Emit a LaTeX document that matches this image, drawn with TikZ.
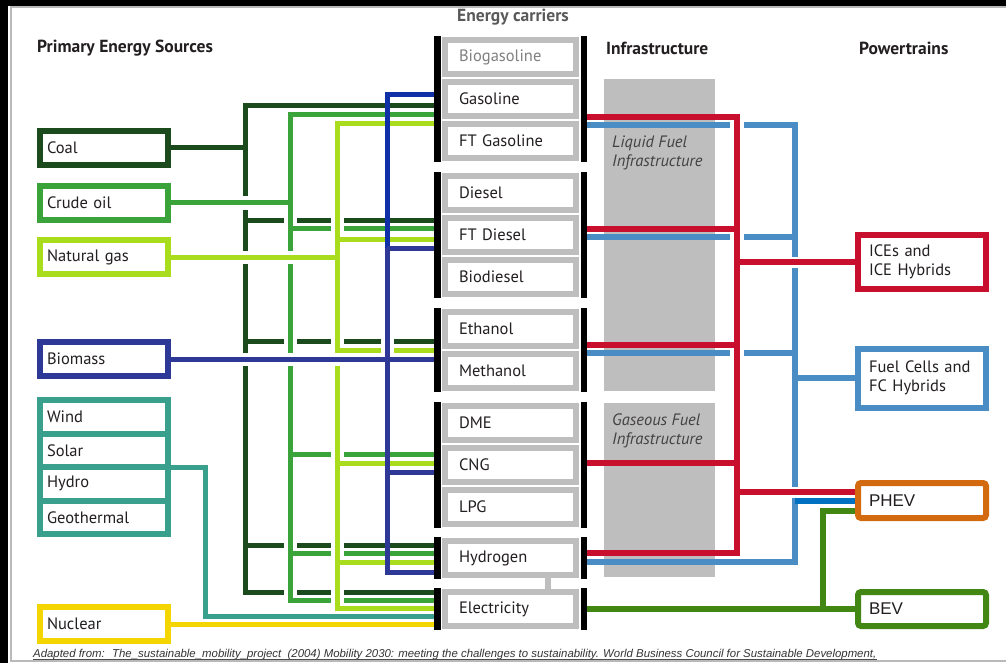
\documentclass[tikz,border=0pt]{standalone}
\usepackage{fontspec}
\setmainfont{PT Sans}
\newfontfamily\arialfont{Liberation Sans}
\usetikzlibrary{positioning}

\definecolor{coalc}{RGB}{27,74,28}
\definecolor{oilc}{RGB}{58,163,58}
\definecolor{gasc}{RGB}{170,220,30}
\definecolor{biomc}{RGB}{46,56,150}
\definecolor{biomtop}{RGB}{16,48,168}
\definecolor{renewc}{RGB}{56,160,140}
\definecolor{nukec}{RGB}{245,213,0}
\definecolor{icec}{RGB}{200,16,46}
\definecolor{fcc}{RGB}{74,140,196}
\definecolor{phevc}{RGB}{212,106,16}
\definecolor{phevblue}{RGB}{0,112,192}
\definecolor{bevc}{RGB}{66,134,20}
\definecolor{carrgray}{RGB}{190,190,190}
\definecolor{textc}{RGB}{35,31,32}

\tikzset{
  heading/.style={font=\bfseries\fontsize{17.5}{20}\selectfont, text=textc, inner sep=0pt},
  source/.style={draw, line width=6pt, fill=white, outer sep=0pt, minimum width=128pt,
    minimum height=34pt, text width=114pt, inner xsep=7pt, align=left,
    font=\fontsize{16.5}{19}\selectfont, text=textc},
  renew/.style={source, draw=renewc, minimum height=33.5pt},
  train/.style={source, outer sep=3pt, inner xsep=11pt, text width=106pt},
  carrier/.style={draw=carrgray, line width=6pt, fill=white, outer sep=0pt, minimum width=131pt,
    minimum height=34pt, text width=103pt, inner xsep=14pt, align=left,
    font=\fontsize{16.5}{19}\selectfont, text=textc},
  infralabel/.style={font=\itshape\fontsize{16.5}{19}\selectfont, text=textc!85, align=left, inner sep=0pt},
  wire/.style={line width=5pt},
  rwire/.style={line width=6pt},
  bar/.style={line width=6.5pt, shorten <=-4pt, shorten >=-4pt},
  gap/.style={fill=white},
}

\begin{document}
\begin{tikzpicture}[x=1pt,y=-1pt]
  \useasboundingbox (0,0) rectangle (1006,663);
  \fill[black] (0,0) rectangle (1006,6);
  \fill[black] (0,0) rectangle (8,663);
  \draw[gray!55,line width=1.5pt] (1006,7) -- (11,7) -- (11,661) -- (1006,661);

  \node[heading,anchor=west] (srchead) at (37,48) {Primary Energy Sources};
  \node[heading,text=black!65] (carrhead) at (513,17) {Energy carriers};
  \node[heading,anchor=west] (infhead) at (606,48) {Infrastructure};
  \node[heading,anchor=west] (pthead) at (859,48) {Powertrains};

  % primary sources
  \node[source,draw=coalc] (coal) at (104,148) {Coal};
  \node[source,draw=oilc] (crude) at (104,203) {Crude oil};
  \node[source,draw=gasc] (natgas) at (104,257) {Natural gas};
  \node[source,draw=biomc] (biomass) at (104,359) {Biomass};
  \node[renew] (wind) at (104,416.75) {Wind};
  \node[renew,below=0pt of wind] (solar) {Solar};
  \node[renew,below=0pt of solar] (hydro) {Hydro};
  \node[renew,below=0pt of hydro] (geo) {Geothermal};
  \node[source,draw=nukec] (nuclear) at (104,624) {Nuclear};

  % infrastructure
  \node[fill=carrgray,minimum width=111pt,minimum height=312pt,inner sep=0pt] (liquid) at (659.5,235) {};
  \node[fill=carrgray,minimum width=111pt,minimum height=174pt,inner sep=0pt] (gaseous) at (659.5,490) {};
  \node[infralabel,anchor=west] (liquidlabel) at (612,152.5) {Liquid Fuel\\Infrastructure};
  \node[infralabel,anchor=west] (gaseouslabel) at (612,430.5) {Gaseous Fuel\\Infrastructure};

  % coal
  \draw[wire,coalc] (coal.east) -- (245,148);
  \draw[wire,coalc] (437,106) -| (245,592) -- (437,592);
  \foreach \y in {220,341,545} \draw[wire,coalc] (245,\y) -- (437,\y);
  \foreach \y in {203,257,359} \fill[gap] (241.5,\y-6.5) rectangle (248.5,\y+6.5);
  \foreach \x/\y in {290/220,337/220,290/341,337/341,387/341,290/545,337/545,290/592,337/592}
    \fill[gap] (\x-6.5,\y-3.5) rectangle (\x+6.5,\y+3.5);

  % crude oil
  \draw[wire,oilc] (crude.east) -- (290,203);
  \draw[wire,oilc] (437,115) -| (290,600) -- (437,600);
  \foreach \y in {228,454,553} \draw[wire,oilc] (290,\y) -- (437,\y);
  \foreach \y in {257,359} \fill[gap] (286.5,\y-6.5) rectangle (293.5,\y+6.5);
  \foreach \y in {228,454,553,600} \fill[gap] (330.5,\y-3.5) rectangle (343.5,\y+3.5);

  % natural gas
  \draw[wire,gasc] (natgas.east) -- (337,257);
  \draw[wire,gasc] (437,124) -| (337,608) -- (437,608);
  \foreach \y in {239,350,463,562} \draw[wire,gasc] (337,\y) -- (437,\y);
  \fill[gap] (333.5,352.5) rectangle (340.5,365.5);
  \fill[gap] (380.5,346.5) rectangle (393.5,353.5);

  % biomass
  \draw[wire,biomtop] (437,95) -| (387,250);
  \draw[wire,biomc] (387,248) |- (437,572);
  \foreach \y in {248,472} \draw[wire,biomc] (387,\y) -- (437,\y);
  \draw[wire,biomc] (biomass.east) -- (437,359);

  \draw[wire,renewc] (hydro.north east) -- (205,467) |- (437,616);
  \draw[wire,nukec] (nuclear.east) -- (437,624);

  % powertrains
  \node[train,draw=icec] (ice) at (922,262) [minimum height=54pt] {ICEs and\\ICE Hybrids};
  \node[train,draw=fcc] (fc) at (922,378) [minimum height=59pt] {Fuel Cells and\\FC Hybrids};
  \node[train,draw=phevc,rounded corners=3pt,font=\arialfont\fontsize{17}{19}\selectfont] (phev) at (922,500.5) [minimum height=35pt] {PHEV};
  \node[train,draw=bevc,rounded corners=3pt,font=\arialfont\fontsize{17}{19}\selectfont] (bev) at (922,609) [minimum height=34pt] {BEV};

  \draw[rwire,fcc] (584,125) -| (795,562) -- (584,562);
  \foreach \y in {237,353} \draw[rwire,fcc] (584,\y) -- (795,\y);
  \draw[rwire,fcc] (795,378) -- (fc.west);
  \draw[rwire,phevblue] (795,501) -- (phev.west |- 0,501);
  \foreach \y in {125,237,353} \fill[gap] (730,\y-4) rectangle (744,\y+4);
  \foreach \y in {262,492} \fill[gap] (791,\y-5.5) rectangle (799,\y+5.5);

  \draw[rwire,icec] (584,117) -| (737,553) -- (584,553);
  \foreach \y in {229,345,463} \draw[rwire,icec] (584,\y) -- (737,\y);
  \draw[rwire,icec] (737,262) -- (ice.west);
  \draw[rwire,icec] (737,492) -- (phev.west |- 0,492);

  \draw[rwire,bevc] (584,609) -- (bev.west);
  \draw[rwire,bevc] (823,609) |- (phev.west |- 0,511);

  % energy carriers
  \node[carrier,text=black!50] (biogasoline) at (510.5,57) {Biogasoline};
  \node[carrier,below=8pt of biogasoline] (gasoline) {Gasoline};
  \node[carrier,below=8pt of gasoline] (ftgasoline) {FT Gasoline};
  \node[carrier] (diesel) at (510.5,193) {Diesel};
  \node[carrier,below=8pt of diesel] (ftdiesel) {FT Diesel};
  \node[carrier,below=8pt of ftdiesel] (biodiesel) {Biodiesel};
  \node[carrier] (ethanol) at (510.5,329) {Ethanol};
  \node[carrier,below=8pt of ethanol] (methanol) {Methanol};
  \node[carrier] (dme) at (510.5,423) {DME};
  \node[carrier,below=8pt of dme] (cng) {CNG};
  \node[carrier,below=8pt of cng] (lpg) {LPG};
  \node[carrier] (hydrogen) at (510.5,558) {Hydrogen};
  \node[carrier] (electricity) at (510.5,609) {Electricity};
  \draw[carrgray,line width=6pt] ([xshift=37.5pt]hydrogen.south) -- ([xshift=37.5pt]electricity.north);

  \coordinate (barL) at (437.5,0);
  \coordinate (barR) at (584,0);
  \foreach \a/\b in {biogasoline/ftgasoline,diesel/biodiesel,ethanol/methanol,dme/lpg,hydrogen/hydrogen,electricity/electricity}{
    \draw[bar] (barL |- \a.north) -- (barL |- \b.south);
    \draw[bar] (barR |- \a.north) -- (barR |- \b.south);
  }

  \node[font=\arialfont\itshape\fontsize{11.4}{13}\selectfont,text=black!80,anchor=base west,inner sep=0pt] (credit) at (33,657.5)
    {Adapted from: \ The\_sustainable\_mobility\_project \ (2004) Mobility 2030: meeting the challenges to sustainability. World Business Council for Sustainable Development,};
  \draw[black!70,line width=0.7pt] ([yshift=-2pt]credit.base west) -- ([yshift=-2pt]credit.base east);
\end{tikzpicture}
\end{document}
